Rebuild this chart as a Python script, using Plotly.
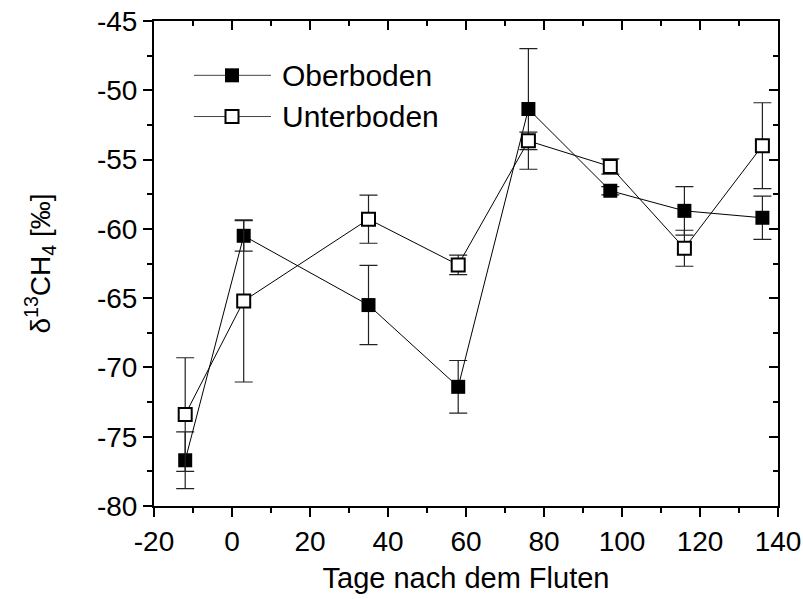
import plotly.graph_objects as go

# Sampling days relative to flooding
days = [-12, 3, 35, 58, 76, 97, 116, 136]

# delta13C of methane, topsoil
ober = [-76.7, -60.5, -65.5, -71.4, -51.35, -57.25, -58.7, -59.2]
ober_err = [2.05, 1.1, 2.86, 1.9, 4.35, 0.3, 1.75, 1.56]

# delta13C of methane, subsoil
unter = [-73.4, -65.2, -59.3, -62.6, -53.65, -55.5, -61.4, -54.0]
unter_err = [4.1, 5.85, 1.74, 0.7, 0.63, 0.55, 1.3, 3.1]

series_names = ["Oberboden", "Unterboden"]

# tick positions and labels (plain hyphen as minus sign)
x_ticks = [-20, 0, 20, 40, 60, 80, 100, 120, 140]
x_ticklabels = ["-20", "0", "20", "40", "60", "80", "100", "120", "140"]
y_ticks = [-80, -75, -70, -65, -60, -55, -50, -45]
y_ticklabels = ["-80", "-75", "-70", "-65", "-60", "-55", "-50", "-45"]

FONT = "Liberation Sans, Arial, Helvetica, sans-serif"
LEFT, RIGHT, TOP, BOTTOM = 154, 25, 21, 93

fig = go.Figure()

err_style = dict(type="data", visible=True, color="#222222", thickness=1.2, width=9)

fig.add_trace(go.Scatter(
    x=days, y=ober, mode="lines+markers", name=series_names[0],
    line=dict(color="black", width=1),
    marker=dict(symbol="square", size=14, color="black", line=dict(color="black", width=0)),
    error_y=dict(array=ober_err, **err_style),
    showlegend=False,
))
fig.add_trace(go.Scatter(
    x=days, y=unter, mode="lines+markers", name=series_names[1],
    line=dict(color="black", width=1),
    marker=dict(symbol="square", size=13, color="white", line=dict(color="black", width=2)),
    error_y=dict(array=unter_err, **err_style),
    showlegend=False,
))

# invisible trace that anchors the mirrored top/right axes
fig.add_trace(go.Scatter(x=[days[0]], y=[ober[0]], xaxis="x2", yaxis="y2",
                         mode="markers", marker=dict(opacity=0), showlegend=False,
                         hoverinfo="skip"))

# legend drawn in a hidden 0..1 frame: line - marker - line, then the label
leg_rows = [0.888, 0.803]
leg_x0, leg_xm, leg_x1, leg_tx = 0.064, 0.125, 0.1875, 0.202
leg_markers = [
    dict(symbol="square", size=14, color="black", line=dict(color="black", width=0)),
    dict(symbol="square", size=13, color="white", line=dict(color="black", width=2)),
]
for name, yy, mk in zip(series_names, leg_rows, leg_markers):
    fig.add_trace(go.Scatter(x=[leg_x0, leg_x1], y=[yy, yy], xaxis="x3", yaxis="y3",
                             mode="lines", line=dict(color="#444444", width=1),
                             showlegend=False, hoverinfo="skip"))
    fig.add_trace(go.Scatter(x=[leg_xm], y=[yy], xaxis="x3", yaxis="y3",
                             mode="markers", marker=mk,
                             showlegend=False, hoverinfo="skip"))
    fig.add_annotation(x=leg_tx, y=yy, xref="paper", yref="paper", text=name,
                       showarrow=False, xanchor="left", yanchor="middle",
                       font=dict(family=FONT, size=30, color="black"))

axis_common = dict(
    showline=True, linecolor="black", linewidth=2, showgrid=False, zeroline=False,
    ticklen=9, tickwidth=2, tickcolor="black", automargin=False,
)

fig.update_layout(
    width=803, height=599,
    margin=dict(l=LEFT, r=RIGHT, t=TOP, b=BOTTOM),
    paper_bgcolor="white", plot_bgcolor="white",
    font=dict(family=FONT, size=28, color="black"),
    xaxis=dict(range=[-20, 140], tickmode="array", tickvals=x_ticks, ticktext=x_ticklabels,
               ticks="outside",
               minor=dict(dtick=10, ticks="outside", ticklen=5, tickwidth=1.5, tickcolor="black"),
               title=dict(text="Tage nach dem Fluten", font=dict(size=29), standoff=12),
               tickfont=dict(size=28), **axis_common),
    yaxis=dict(range=[-80, -45], tickmode="array", tickvals=y_ticks, ticktext=y_ticklabels,
               ticks="outside",
               minor=dict(dtick=2.5, ticks="outside", ticklen=5, tickwidth=1.5, tickcolor="black"),
               title=dict(text="δ<sup>13</sup>CH<sub>4</sub> [‰]", font=dict(size=28), standoff=38),
               tickfont=dict(size=28), **axis_common),
    xaxis2=dict(range=[-20, 140], overlaying="x", side="top", anchor="y", matches="x",
                tickmode="array", tickvals=x_ticks, ticks="inside", showticklabels=False,
                minor=dict(dtick=10, ticks="inside", ticklen=5, tickwidth=1.5, tickcolor="black"),
                **axis_common),
    yaxis2=dict(range=[-80, -45], overlaying="y", side="right", anchor="x", matches="y",
                tickmode="array", tickvals=y_ticks, ticks="inside", showticklabels=False,
                minor=dict(dtick=2.5, ticks="inside", ticklen=5, tickwidth=1.5, tickcolor="black"),
                **axis_common),
    xaxis3=dict(range=[0, 1], overlaying="x", visible=False, fixedrange=True),
    yaxis3=dict(range=[0, 1], overlaying="y", visible=False, fixedrange=True),
)

fig.write_html("out.html")
